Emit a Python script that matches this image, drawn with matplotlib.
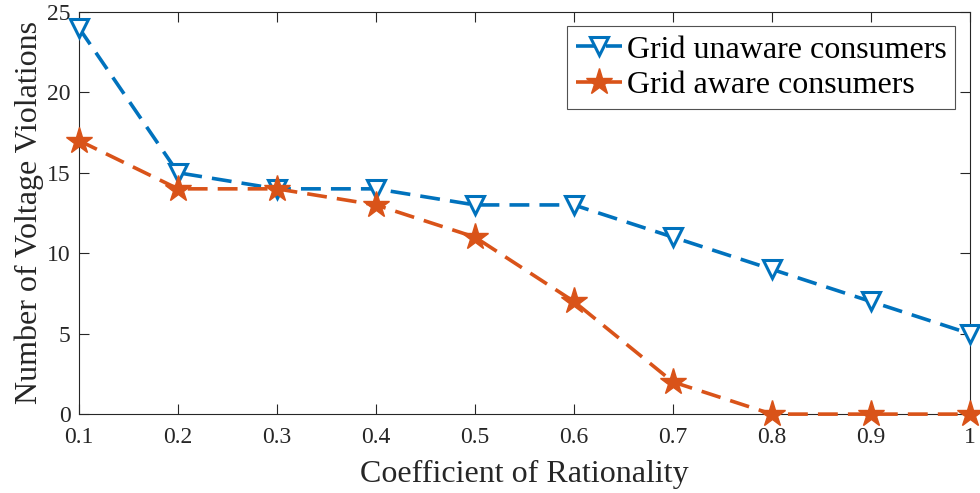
import matplotlib
matplotlib.use("Agg")
import matplotlib.pyplot as plt

# data
rationality = [0.1, 0.2, 0.3, 0.4, 0.5, 0.6, 0.7, 0.8, 0.9, 1.0]
unaware = [24, 15, 14, 14, 13, 13, 11, 9, 7, 5]
aware = [17, 14, 14, 13, 11, 7, 2, 0, 0, 0]

plt.rcParams["font.family"] = ["Liberation Serif", "DejaVu Serif"]
plt.rcParams["mathtext.fontset"] = "stix"

dark = "#262626"
fig = plt.figure(figsize=(9.8, 4.93), dpi=100)
ax = fig.add_axes([0.0806, 0.160, 0.909, 0.816])

ax.plot(rationality, unaware, color="#0072BD", linestyle="--", linewidth=2.6,
        dashes=(5.5, 2.8), marker="v", markersize=13, markerfacecolor="white",
        markeredgewidth=2.2, label="Grid unaware consumers", clip_on=False, zorder=3)
ax.plot(rationality, aware, color="#D95319", linestyle="--", linewidth=2.6,
        dashes=(5.5, 2.8), marker="*", markersize=20, markerfacecolor="#D95319",
        markeredgewidth=1.0, label="Grid aware consumers", clip_on=False, zorder=4)

ax.set_xlim(0.1, 1.0)
ax.set_ylim(0, 25)
ax.set_xticks(rationality)
ax.set_xticklabels(["0.1", "0.2", "0.3", "0.4", "0.5", "0.6", "0.7", "0.8", "0.9", "1"])
ax.set_yticks([0, 5, 10, 15, 20, 25])

ax.tick_params(direction="in", top=True, right=True, length=7, width=0.8,
               colors=dark, labelsize=17)
ax.tick_params(axis="x", pad=9)
ax.tick_params(axis="y", pad=6)
for spine in ax.spines.values():
    spine.set_color(dark)
    spine.set_linewidth(0.8)

ax.set_xlabel("Coefficient of Rationality", fontsize=23, color=dark, labelpad=9)
ax.set_ylabel("Number of Voltage Violations", fontsize=23, color=dark, labelpad=2)

leg = ax.legend(loc="upper right", fontsize=23, frameon=True, fancybox=False,
                edgecolor=dark, handlelength=1.45, handletextpad=0.15,
                borderpad=0.28, labelspacing=0.2, borderaxespad=0.45)
leg.get_frame().set_linewidth(0.8)

fig.savefig("out.png", dpi=100)
